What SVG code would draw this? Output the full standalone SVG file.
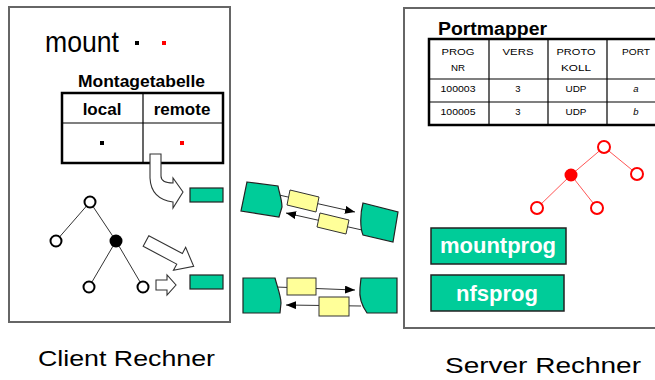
<svg xmlns="http://www.w3.org/2000/svg" width="655" height="380" viewBox="0 0 655 380">
  <defs>
    <style>
      .box{fill:#fff;stroke:#666;stroke-width:2}
      .t{font-family:"Liberation Sans",Arial,Helvetica,sans-serif;fill:#000}
      .b{font-weight:bold}
      .sm{font-size:9.5px;text-anchor:middle}
      .tbl{fill:#fff;stroke:#000;stroke-width:2.5}
      .grid{stroke:#000;stroke-width:1.2}
      .green{fill:#00cc99;stroke:#222;stroke-width:1.2}
      .yellow{fill:#ffff99;stroke:#333;stroke-width:1}
      .hollow{fill:#fff;stroke:#333;stroke-width:1.1}
      .node{fill:#fff;stroke:#000;stroke-width:2}
      .rnode{fill:#fff;stroke:#f00;stroke-width:2}
      .edge{stroke:#333;stroke-width:1;fill:none}
      .redge{stroke:#f55;stroke-width:1;fill:none}
      .msg{stroke:#333;stroke-width:1;fill:none;marker-end:url(#ah)}
      .prog{fill:#00cc99;stroke:#222;stroke-width:1.5}
      .progtext{font-size:22px;font-weight:bold;fill:#fff;text-anchor:middle}
    </style>
    <marker id="ah" viewBox="0 0 10 8" refX="10" refY="4" markerWidth="10" markerHeight="8" markerUnits="userSpaceOnUse" orient="auto">
      <path d="M0,0 L10,4 L0,8 Z" fill="#000"/>
    </marker>
  </defs>

  <!-- machine frames -->
  <g id="client">
    <rect class="box" x="9" y="7" width="221" height="315"/>
  </g>
  <g id="server">
    <rect class="box" x="404" y="8" width="270" height="320"/>
  </g>

  <!-- connectors: tree edges and message lines -->
  <g id="connectors">
    <line class="edge" x1="90" y1="202" x2="56" y2="241"/>
    <line class="edge" x1="90" y1="202" x2="116" y2="241"/>
    <line class="edge" x1="116" y1="241" x2="89" y2="287"/>
    <line class="edge" x1="116" y1="241" x2="143" y2="287"/>
    <line class="redge" x1="604" y1="147" x2="571" y2="175"/>
    <line class="redge" x1="604" y1="147" x2="637" y2="174"/>
    <line class="redge" x1="571" y1="175" x2="537" y2="208"/>
    <line class="redge" x1="571" y1="175" x2="597" y2="208"/>
    <line class="msg" x1="279" y1="195" x2="355" y2="212"/>
    <line class="msg" x1="362" y1="230" x2="286" y2="213"/>
    <line class="msg" x1="276" y1="287" x2="355" y2="290"/>
    <line class="msg" x1="361" y1="306" x2="286" y2="305"/>
  </g>

  <!-- client side -->
  <g id="mount">
    <text class="t" x="45" y="52" font-size="30" textLength="74" lengthAdjust="spacingAndGlyphs">mount</text>
    <rect x="135" y="41" width="4" height="4" fill="#000"/>
    <rect x="162" y="41" width="4" height="4" fill="#f00"/>
  </g>

  <g id="montagetabelle">
    <text class="t b" x="78" y="87" font-size="16" textLength="127" lengthAdjust="spacingAndGlyphs">Montagetabelle</text>
    <rect class="tbl" x="62" y="93" width="161" height="70"/>
    <line class="grid" x1="62" y1="123" x2="223" y2="123"/>
    <line class="grid" x1="143" y1="93" x2="143" y2="163"/>
    <text class="t b" x="102" y="115" font-size="17" text-anchor="middle">local</text>
    <text class="t b" x="182" y="115" font-size="17" text-anchor="middle">remote</text>
    <rect x="100" y="141" width="4" height="4" fill="#000"/>
    <rect x="180" y="141" width="4" height="4" fill="#f00"/>
  </g>

  <g id="mount-arrow">
    <path class="hollow" d="M150,154 H161 V176 Q161,183 173,183 V178 L183,192 L173,208 V202 Q151,199 150,178 Z"/>
  </g>
  <g id="client-handle-1">
    <rect class="green" x="190" y="188" width="33" height="14"/>
  </g>

  <g id="client-tree">
    <circle class="node" cx="90" cy="202" r="5.5"/>
    <circle class="node" cx="56" cy="241" r="5.5"/>
    <circle cx="116" cy="241" r="6.5" fill="#000"/>
    <circle class="node" cx="89" cy="287" r="5.5"/>
    <circle class="node" cx="143" cy="287" r="5.5"/>
  </g>

  <g id="tree-arrow">
    <path class="hollow" transform="translate(146,241) rotate(28)" d="M0,-6 H38 V-13 L54,0 L38,13 V6 H0 Z"/>
  </g>
  <g id="leaf-arrow">
    <path class="hollow" d="M156,280 H167 V275 L176,285 L167,295 V290 H156 Z"/>
  </g>
  <g id="client-handle-2">
    <rect class="green" x="190" y="275" width="33" height="14"/>
  </g>

  <!-- mount protocol channel -->
  <g id="mount-channel">
    <path class="green" d="M247,182 L278,186 C279,192 282,200 282,207 L279,217 L241,211 Z"/>
    <path class="green" d="M363,203 L398,212 L393,242 L363,235 C360,228 360,214 363,203 Z"/>
    <polygon class="yellow" points="290,190 319,197 316,212 287,205"/>
    <polygon class="yellow" points="320,213 349,220 346,234 317,227"/>
  </g>

  <!-- nfs protocol channel -->
  <g id="nfs-channel">
    <path class="green" d="M243,278 H275 C277,286 281,296 281,303 L280,313 H243 Z"/>
    <path class="green" d="M361,278 H397 V313 H367 C362,306 359,297 360,288 Z"/>
    <rect class="yellow" x="287" y="278" width="29" height="17"/>
    <rect class="yellow" x="319" y="297" width="30" height="19"/>
  </g>

  <!-- server side -->
  <g id="portmapper">
    <text class="t b" x="438" y="35" font-size="18" textLength="109" lengthAdjust="spacingAndGlyphs">Portmapper</text>
    <rect class="tbl" x="429" y="39" width="240" height="86"/>
    <line class="grid" x1="429" y1="79" x2="655" y2="79"/>
    <line class="grid" x1="429" y1="102" x2="655" y2="102"/>
    <line class="grid" x1="489" y1="39" x2="489" y2="125"/>
    <line class="grid" x1="548" y1="39" x2="548" y2="125"/>
    <line class="grid" x1="607" y1="39" x2="607" y2="125"/>
    <text class="t sm" x="458" y="55" textLength="33" lengthAdjust="spacingAndGlyphs">PROG</text>
    <text class="t sm" x="458" y="71" textLength="14" lengthAdjust="spacingAndGlyphs">NR</text>
    <text class="t sm" x="518" y="55" textLength="31" lengthAdjust="spacingAndGlyphs">VERS</text>
    <text class="t sm" x="576" y="55" textLength="39" lengthAdjust="spacingAndGlyphs">PROTO</text>
    <text class="t sm" x="576" y="71" textLength="30" lengthAdjust="spacingAndGlyphs">KOLL</text>
    <text class="t sm" x="636" y="55" textLength="28" lengthAdjust="spacingAndGlyphs">PORT</text>
    <text class="t sm" x="458" y="92" textLength="35" lengthAdjust="spacingAndGlyphs">100003</text>
    <text class="t sm" x="518" y="92">3</text>
    <text class="t sm" x="576" y="92" textLength="21" lengthAdjust="spacingAndGlyphs">UDP</text>
    <text class="t sm" x="636" y="92" font-style="italic">a</text>
    <text class="t sm" x="458" y="115" textLength="35" lengthAdjust="spacingAndGlyphs">100005</text>
    <text class="t sm" x="518" y="115">3</text>
    <text class="t sm" x="576" y="115" textLength="21" lengthAdjust="spacingAndGlyphs">UDP</text>
    <text class="t sm" x="636" y="115" font-style="italic">b</text>
  </g>

  <g id="server-tree">
    <circle class="rnode" cx="604" cy="147" r="6"/>
    <circle cx="571" cy="175" r="6.5" fill="#f00"/>
    <circle class="rnode" cx="637" cy="174" r="6"/>
    <circle class="rnode" cx="537" cy="208" r="6"/>
    <circle class="rnode" cx="597" cy="208" r="6"/>
  </g>

  <g id="mountprog">
    <rect class="prog" x="431" y="228" width="135" height="36"/>
    <text class="t progtext" x="498" y="253">mountprog</text>
  </g>
  <g id="nfsprog">
    <rect class="prog" x="431" y="275" width="133" height="36"/>
    <text class="t progtext" x="497" y="301">nfsprog</text>
  </g>

  <!-- captions -->
  <g id="client-label">
    <text class="t" x="38" y="366" font-size="22" textLength="177" lengthAdjust="spacingAndGlyphs">Client Rechner</text>
  </g>
  <g id="server-label">
    <text class="t" x="445" y="373" font-size="22" textLength="196" lengthAdjust="spacingAndGlyphs">Server Rechner</text>
  </g>
</svg>
